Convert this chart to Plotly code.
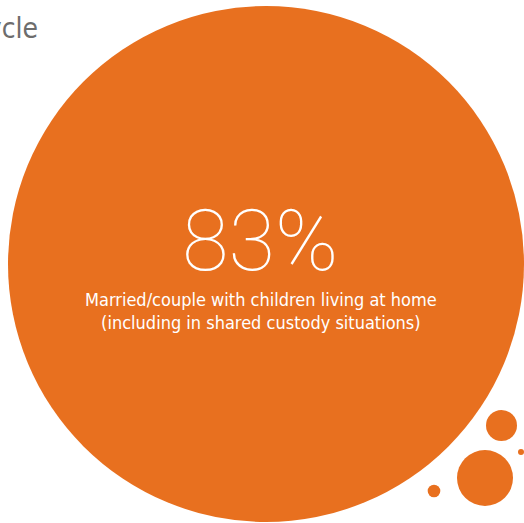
import plotly.graph_objects as go

# Headline statistic and its caption
share_pct = 83
caption_lines = [
    "Married/couple with children living at home",
    "(including in shared custody situations)",
]
title_text = "cycle"

ORANGE = "#E8701F"
W, H = 524, 523

# Bubble layout (centre x, centre y, radius) in pixel space
bubbles = [
    (266, 264, 258),   # main bubble
    (501.5, 425.5, 15.5),
    (485, 478, 28),
    (434, 491, 6.3),
    (521, 452, 3),
]

fig = go.Figure()
shapes = []
for cx, cy, r in bubbles:
    shapes.append(dict(type="circle", xref="x", yref="y",
                       x0=cx - r, x1=cx + r, y0=cy - r, y1=cy + r,
                       fillcolor=ORANGE, line=dict(width=0), layer="below"))

annotations = [
    dict(x=260, y=241, xref="x", yref="y", text=f"{share_pct}%", showarrow=False,
         font=dict(family="Roboto", size=85, color="white", weight=100),
         xanchor="center", yanchor="middle"),
    dict(x=261, y=311, xref="x", yref="y", text="<br>".join(caption_lines),
         showarrow=False, align="center",
         font=dict(family="Liberation Sans Narrow, DejaVu Sans Condensed, sans-serif",
                   size=18, color="white"),
         xanchor="center", yanchor="middle"),
    dict(x=40, y=28, xref="x", yref="y", text=title_text, showarrow=False,
         font=dict(family="Liberation Sans Narrow, DejaVu Sans Condensed, sans-serif",
                   size=28, color="#6d6d6d"),
         xanchor="right", yanchor="middle"),
]

fig.update_layout(
    width=W, height=H,
    margin=dict(l=0, r=0, t=0, b=0),
    paper_bgcolor="white", plot_bgcolor="white",
    xaxis=dict(range=[0, W], visible=False, fixedrange=True),
    yaxis=dict(range=[H, 0], visible=False, fixedrange=True),
    shapes=shapes, annotations=annotations, showlegend=False,
)
fig.write_html("out.html", config={"displayModeBar": False})
